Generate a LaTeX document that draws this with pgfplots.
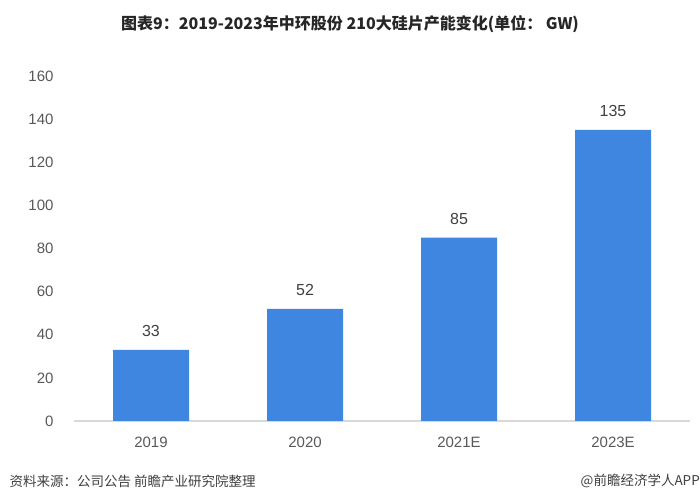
\documentclass[border=0pt]{standalone}
\usepackage{pgfplots}
\pgfplotsset{compat=1.18}
\usepackage{fontspec}
\setmainfont{Liberation Sans}
\newfontfamily\cjk{Noto Sans CJK SC}
\definecolor{barblue}{HTML}{3F86E0}
\definecolor{txt}{HTML}{595959}
\definecolor{lbl}{HTML}{404040}
\definecolor{base}{HTML}{D9D9D9}
\begin{document}
\begin{tikzpicture}
\path[use as bounding box, fill=white] (0,0) rectangle (700pt,502pt);
\begin{axis}[
  at={(74pt,81pt)}, anchor=south west,
  scale only axis, width=616pt, height=345pt,
  xmin=-0.5, xmax=3.5, ymin=0, ymax=160,
  ytick={0,20,...,160},
  xtick=data, xticklabels={2019,2020,2021E,2023E},
  axis x line*=bottom, axis y line*=left,
  x axis line style={draw=base, line width=2pt, -},
  y axis line style={draw=none},
  major tick length=0pt,
  tick label style={font=\fontsize{15}{18}\selectfont, text=txt},
  /pgf/number format/assume math mode=true,
  yticklabel style={xshift=-17pt},
  xticklabel style={yshift=-12pt},
  nodes near coords,
  every node near coord/.append style={font=\fontsize{16}{19}\selectfont, text=lbl, yshift=10pt},
  clip=false,
]
\addplot[ybar, bar width=76pt, fill=barblue, draw=none] coordinates {(0,33) (1,52) (2,85) (3,135)};
\end{axis}
\node[font=\cjk\bfseries\fontsize{16}{19}\selectfont, text=black!85] at (350pt,478pt) {图表9：2019-2023年中环股份 210大硅片产能变化(单位： GW)};
\node[anchor=west, font=\cjk\fontsize{13.5}{16}\selectfont, text=lbl] at (6pt,21pt) {资料来源：公司公告 前瞻产业研究院整理};
\node[anchor=east, font=\cjk\fontsize{13.5}{16}\selectfont, text=lbl, inner sep=0pt] at (700pt,21pt) {@前瞻经济学人APP};
\end{tikzpicture}
\end{document}
